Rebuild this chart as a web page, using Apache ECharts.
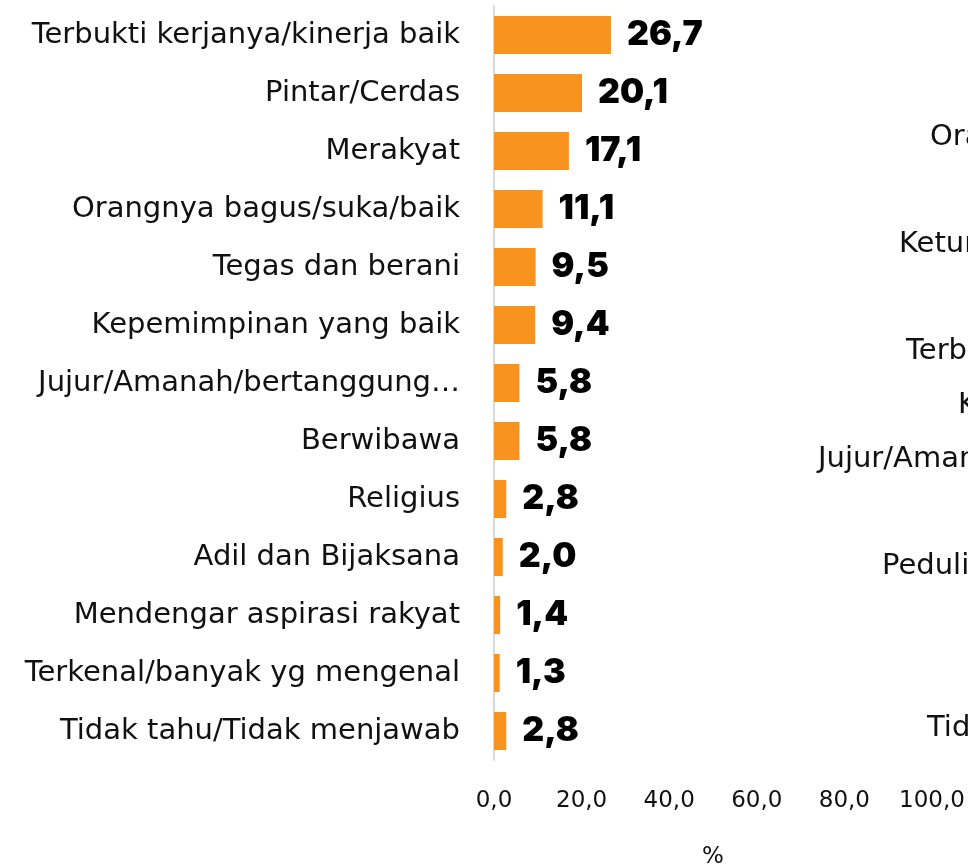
<!DOCTYPE html>
<html>
<head>
<meta charset="utf-8">
<script src="https://cdn.jsdelivr.net/npm/echarts@6/dist/echarts.min.js"></script>
<style>
  html, body { margin: 0; padding: 0; background: #fff; }
  #main { width: 968px; height: 865px; }
</style>
</head>
<body>
<div id="main"></div>
<script>
// alasan memilih
var categories = [
    'Terbukti kerjanya/kinerja baik',
    'Pintar/Cerdas',
    'Merakyat',
    'Orangnya bagus/suka/baik',
    'Tegas dan berani',
    'Kepemimpinan yang baik',
    'Jujur/Amanah/bertanggung…',
    'Berwibawa',
    'Religius',
    'Adil dan Bijaksana',
    'Mendengar aspirasi rakyat',
    'Terkenal/banyak yg mengenal',
    'Tidak tahu/Tidak menjawab'
];
var values = [26.7, 20.1, 17.1, 11.1, 9.5, 9.4, 5.8, 5.8, 2.8, 2.0, 1.4, 1.3, 2.8];
var xTicks = [0, 20, 40, 60, 80, 100];

// potongan label dari grafik sebelah kanan (terpotong di tepi)
var sideLabels = ['Orangnya', 'Keturunan', 'Terbukti', 'Kepemimpinan', 'Jujur/Amanah', 'Peduli', 'Tidak tahu'];
var sideX = [930, 899, 906, 958, 818, 882, 927];
var sideY = [140, 247, 354, 408, 462, 569, 731];

var labelFont = 'DejaVu Sans';

function fmt(v) {
    return v.toFixed(1).replace('.', ',');
}

var chart = echarts.init(document.getElementById('main'));
var option = {
    animation: false,
    textStyle: { fontFamily: labelFont },
    grid: {
        left: 494,
        right: 36,
        top: 6,
        height: 754,
        outerBoundsMode: 'none'
    },
    xAxis: {
        type: 'value',
        min: xTicks[0],
        max: xTicks[xTicks.length - 1],
        interval: 20,
        axisLine: { show: false },
        axisTick: { show: false },
        splitLine: { show: false },
        axisLabel: {
            color: '#111',
            fontSize: 23,
            margin: 30,
            formatter: function (v) { return fmt(v); }
        },
        name: '%',
        nameLocation: 'middle',
        nameGap: 86,
        nameTextStyle: { color: '#111', fontSize: 23 }
    },
    yAxis: {
        type: 'category',
        inverse: true,
        data: categories,
        axisTick: { show: false },
        axisLine: { lineStyle: { color: '#d9d9d9', width: 2 } },
        axisLabel: {
            color: '#111',
            fontSize: 29,
            margin: 34
        }
    },
    series: [{
        type: 'bar',
        data: values,
        barWidth: 38,
        itemStyle: { color: '#f7931e' },
        label: {
            show: true,
            position: 'right',
            distance: 16,
            color: '#000',
            fontSize: 34,
            fontWeight: 900,
            fontFamily: 'Inter',
            formatter: function (p) { return fmt(p.value); }
        }
    }],
    graphic: sideLabels.map(function (t, i) {
        return {
            type: 'text',
            left: sideX[i],
            top: sideY[i] - 17,
            style: { text: t, fontSize: 29, fill: '#111', fontFamily: labelFont }
        };
    })
};
chart.setOption(option);
</script>
</body>
</html>
